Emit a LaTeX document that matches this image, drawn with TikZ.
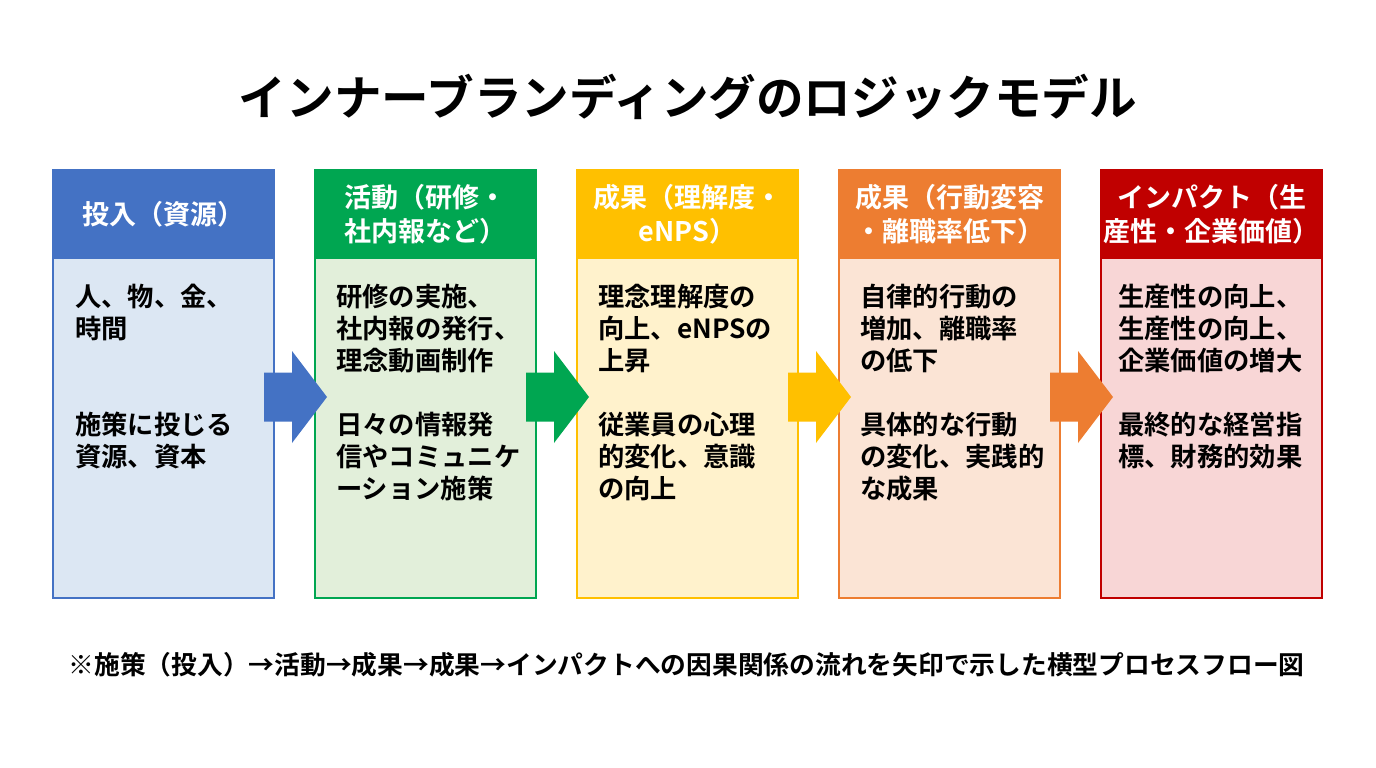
\documentclass[tikz,border=0pt]{standalone}
\usepackage{fontspec}
\setmainfont{Noto Sans CJK JP}[BoldFont={Noto Sans CJK JP Bold}]
\usetikzlibrary{positioning, calc}

\definecolor{inblue}{HTML}{4472C4}
\definecolor{inbluelt}{HTML}{DCE7F3}
\definecolor{actgreen}{HTML}{00A651}
\definecolor{actgreenlt}{HTML}{E2EFDA}
\definecolor{outyellow}{HTML}{FFC000}
\definecolor{outyellowlt}{HTML}{FFF2CC}
\definecolor{outorange}{HTML}{ED7D31}
\definecolor{outorangelt}{HTML}{FBE4D5}
\definecolor{impred}{HTML}{C00000}
\definecolor{impredlt}{HTML}{F8D6D6}

\begin{document}
\begin{tikzpicture}[x=1pt, y=-1pt,
    stagehead/.style={rectangle, draw=#1, fill=#1, line width=2.8pt,
      minimum width=221pt, minimum height=88pt, inner sep=0pt, outer sep=0pt,
      text=white, align=center, font=\fontsize{27}{34}\selectfont\bfseries},
    stagebody/.style={rectangle, draw=#1, line width=2.8pt,
      minimum width=221pt, minimum height=340pt, inner sep=0pt, outer sep=0pt},
    bodytext/.style={anchor=north west, inner sep=0pt, align=left,
      font=\fontsize{26.3}{32}\selectfont\bfseries}]
  \useasboundingbox[fill=white] (0,0) rectangle (1376,768);

  % Title
  \node[font=\fontsize{47.6}{56}\selectfont\bfseries] (title) at (688,97)
    {インナーブランディングのロジックモデル};

  % Stages
  \node[stagehead=inblue] (hd1) at (163.5,214) {投入（資源）};
  \node[stagebody=inblue, fill=inbluelt, below=0pt of hd1] (bd1) {};
  \node[stagehead=actgreen] (hd2) at (425.5,214) {活動（研修・\\社内報など）};
  \node[stagebody=actgreen, fill=actgreenlt, below=0pt of hd2] (bd2) {};
  \node[stagehead=outyellow] (hd3) at (687.5,214) {成果（理解度・\\eNPS）};
  \node[stagebody=outyellow, fill=outyellowlt, below=0pt of hd3] (bd3) {};
  \node[stagehead=outorange] (hd4) at (949.5,214) {成果（行動変容\\・離職率低下）};
  \node[stagebody=outorange, fill=outorangelt, below=0pt of hd4] (bd4) {};
  \node[stagehead=impred] (hd5) at (1211.5,214) {インパクト（生\\産性・企業価値）};
  \node[stagebody=impred, fill=impredlt, below=0pt of hd5] (bd5) {};

  % Stage texts
  \node[bodytext] (tx1) at ($(bd1.north west)+(22,26)$)
    {人、物、金、\\時間\\[64pt]施策に投じる\\資源、資本};
  \node[bodytext] (tx2) at ($(bd2.north west)+(21,26)$)
    {研修の実施、\\社内報の発行、\\理念動画制作\\[32pt]日々の情報発\\信やコミュニケ\\ーション施策};
  \node[bodytext] (tx3) at ($(bd3.north west)+(21,26)$)
    {理念理解度の\\向上、eNPSの\\上昇\\[32pt]従業員の心理\\的変化、意識\\の向上};
  \node[bodytext] (tx4) at ($(bd4.north west)+(21,26)$)
    {自律的行動の\\増加、離職率\\の低下\\[32pt]具体的な行動\\の変化、実践的\\な成果};
  \node[bodytext] (tx5) at ($(bd5.north west)+(17,26)$)
    {生産性の向上、\\生産性の向上、\\企業価値の増大\\[32pt]最終的な経営指\\標、財務的効果};

  % Flow arrows
  \fill[inblue] ($(bd1.east)+(-10,-55.5)$) -- ++(28,0) -- ++(0,-21.5) -- ++(35,46)
    -- ++(-35,46) -- ++(0,-21.5) -- ++(-28,0) -- cycle;
  \fill[actgreen] ($(bd2.east)+(-10,-55.5)$) -- ++(28,0) -- ++(0,-21.5) -- ++(35,46)
    -- ++(-35,46) -- ++(0,-21.5) -- ++(-28,0) -- cycle;
  \fill[outyellow] ($(bd3.east)+(-10,-55.5)$) -- ++(28,0) -- ++(0,-21.5) -- ++(35,46)
    -- ++(-35,46) -- ++(0,-21.5) -- ++(-28,0) -- cycle;
  \fill[outorange] ($(bd4.east)+(-10,-55.5)$) -- ++(28,0) -- ++(0,-21.5) -- ++(35,46)
    -- ++(-35,46) -- ++(0,-21.5) -- ++(-28,0) -- cycle;

  % Note
  \node[font=\fontsize{25.75}{30}\selectfont\bfseries] (note) at (686.5,665)
    {※施策（投入）→活動→成果→成果→インパクトへの因果関係の流れを矢印で示した横型プロセスフロー図};
\end{tikzpicture}
\end{document}
